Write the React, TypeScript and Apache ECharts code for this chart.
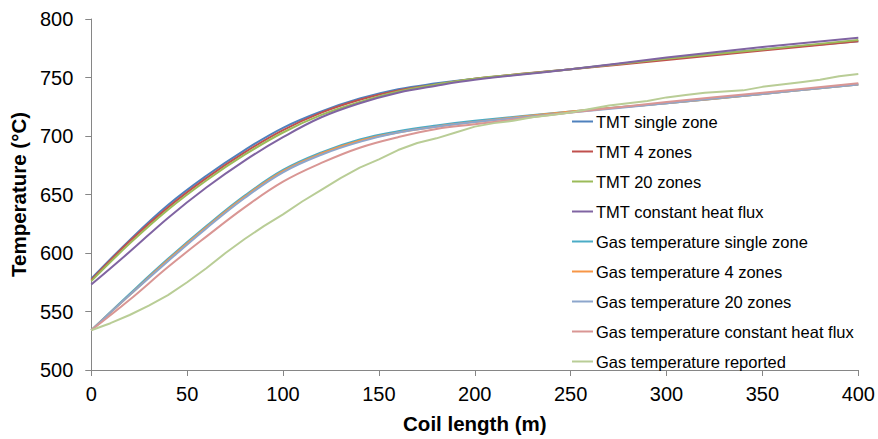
import React, { useEffect, useRef } from "react";
import * as echarts from "echarts";

const coilLength = [0, 20, 40, 60, 80, 100, 120, 140, 160, 180, 200, 250, 300, 350, 400];
const tmtSingleZone = [578, 611, 641, 666, 688, 707, 721, 732, 740, 745, 749, 757, 766, 774, 781];
const tmt4Zones = [577, 610, 639, 664, 686, 705, 720, 731, 739, 744, 749, 757, 765, 773, 781];
const tmt20Zones = [576, 608, 637, 662, 684, 703, 718, 729, 738, 744, 749, 757, 766, 774, 782];
const tmtConstantFlux = [573, 601, 630, 656, 679, 699, 716, 728, 737, 743, 748, 757, 767, 776, 784];
const gasSingleZone = [534, 565, 595, 623, 649, 671, 686, 697, 704, 709, 713, 721, 728, 736, 744];
const gas4Zones = [534, 564, 594, 622, 648, 670, 685, 696, 703, 708, 712, 721, 728, 736, 744];
const gas20Zones = [534, 564, 593, 621, 647, 669, 684, 695, 703, 708, 712, 720, 728, 736, 744];
const gasConstantFlux = [534, 560, 588, 614, 639, 661, 677, 690, 699, 706, 710, 720, 729, 737, 745];

const reportedLength = [0, 10, 20, 30, 40, 50, 60, 70, 80, 90, 100, 110, 120, 130, 140, 150, 160, 170, 180, 190, 200, 210, 220, 230, 240, 250, 260, 270, 280, 290, 300, 310, 320, 330, 340, 350, 360, 370, 380, 390, 400];
const gasReported = [534, 540, 547, 555, 564, 575, 587, 600, 612, 623, 633, 644, 654, 664, 673, 680, 688, 694, 698, 703, 708, 711, 713, 716, 718, 720, 723, 726, 728, 730, 733, 735, 737, 738, 739, 742, 744, 746, 748, 751, 753];

const xTicks = [0, 50, 100, 150, 200, 250, 300, 350, 400];
const yTicks = [500, 550, 600, 650, 700, 750, 800];

const seriesNames = [
  "TMT single zone",
  "TMT 4 zones",
  "TMT 20 zones",
  "TMT constant heat flux",
  "Gas temperature single zone",
  "Gas temperature 4 zones",
  "Gas temperature 20 zones",
  "Gas temperature constant heat flux",
  "Gas temperature reported",
];
const seriesColors = ["#4F81BD", "#C0504D", "#9BBB59", "#8064A2", "#4BACC6", "#F79646", "#8DA6CC", "#D99694", "#B9CD96"];

const FONT = "Liberation Sans, Arial, sans-serif";

export default function App() {
  const ref = useRef<HTMLDivElement>(null);
  useEffect(() => {
    if (!ref.current) return;
    const chart = echarts.init(ref.current, null, { renderer: "svg" });
    const modelData = [tmtSingleZone, tmt4Zones, tmt20Zones, tmtConstantFlux, gasSingleZone, gas4Zones, gas20Zones, gasConstantFlux];
    const series: any[] = modelData.map((vals, i) => ({
      name: seriesNames[i],
      type: "line",
      data: coilLength.map((x, j) => [x, vals[j]]),
      smooth: 0.4,
      symbol: "none",
      lineStyle: { color: seriesColors[i], width: 2 },
      itemStyle: { color: seriesColors[i] },
    }));
    series.push({
      name: seriesNames[8],
      type: "line",
      data: reportedLength.map((x, j) => [x, gasReported[j]]),
      symbol: "none",
      lineStyle: { color: seriesColors[8], width: 2 },
      itemStyle: { color: seriesColors[8] },
    });
    const axisGray = "#868686";
    chart.setOption({
      animation: false,
      backgroundColor: "#ffffff",
      textStyle: { fontFamily: FONT },
      grid: { left: 88, right: 18, top: 19, bottom: 64, containLabel: false },
      legend: {
        orient: "vertical",
        left: 572,
        top: 113,
        padding: 0,
        icon: "rect",
        itemWidth: 21,
        itemHeight: 2,
        itemGap: 13,
        data: seriesNames,
        textStyle: { fontSize: 16.5, color: "#000", lineHeight: 17, fontFamily: FONT, padding: [0, 0, 0, -2] },
      },
      xAxis: {
        type: "value",
        min: 0,
        max: 400,
        interval: 50,
        name: "Coil length (m)",
        nameLocation: "middle",
        nameGap: 43,
        nameTextStyle: { fontSize: 20.5, fontWeight: "bold", color: "#000", fontFamily: FONT },
        axisLine: { show: true, lineStyle: { color: axisGray, width: 1 } },
        axisTick: { show: true, inside: false, length: 6, lineStyle: { color: axisGray } },
        axisLabel: {
          fontSize: 20,
          color: "#000",
          margin: 14,
          formatter: (v: number) => (xTicks.includes(v) ? String(v) : ""),
        },
        splitLine: { show: false },
      },
      yAxis: {
        type: "value",
        min: 500,
        max: 800,
        interval: 50,
        name: "Temperature (°C)",
        nameLocation: "middle",
        nameGap: 53,
        nameTextStyle: { fontSize: 20.5, fontWeight: "bold", color: "#000", fontFamily: FONT },
        axisLine: { show: true, lineStyle: { color: axisGray, width: 1 } },
        axisTick: { show: true, inside: false, length: 6, lineStyle: { color: axisGray } },
        axisLabel: {
          fontSize: 20,
          color: "#000",
          margin: 18,
          formatter: (v: number) => (yTicks.includes(v) ? String(v) : ""),
        },
        splitLine: { show: false },
      },
      series,
    });
    return () => chart.dispose();
  }, []);
  return <div ref={ref} style={{ width: 878, height: 439, position: "absolute", left: 0, top: 0 }} />;
}
